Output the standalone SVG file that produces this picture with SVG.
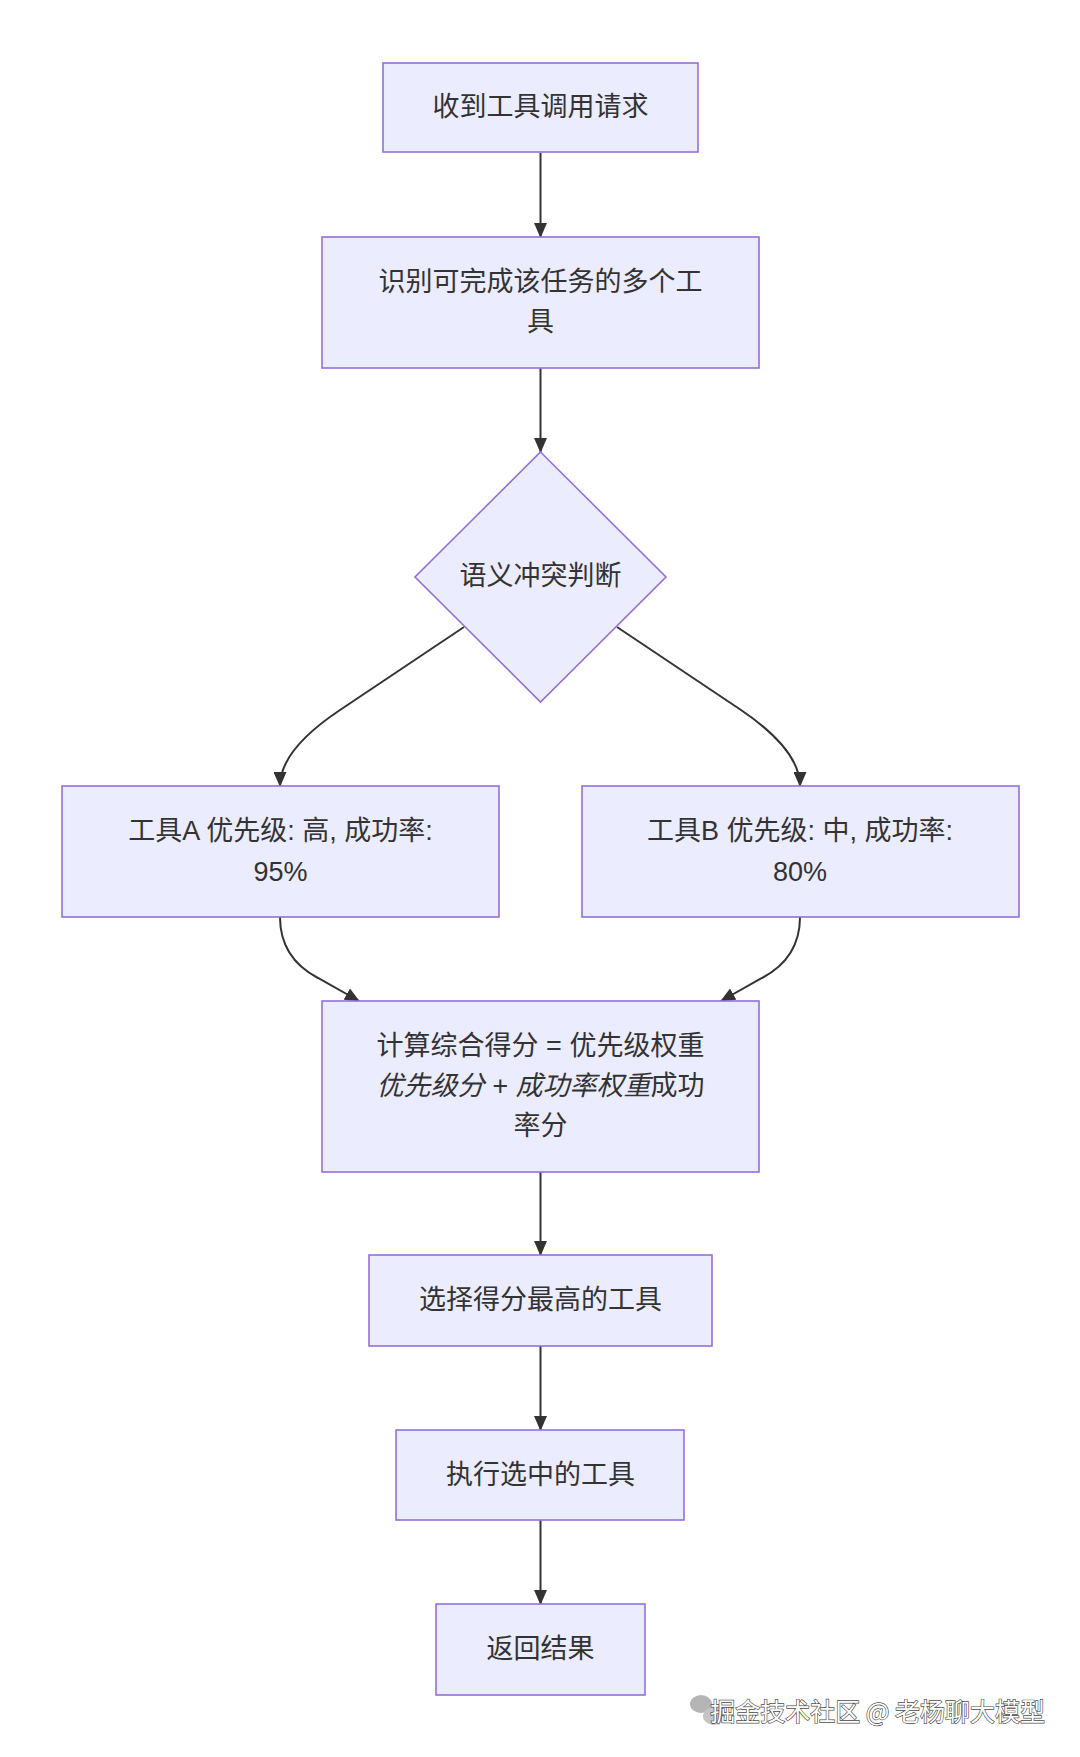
<svg xmlns="http://www.w3.org/2000/svg" width="1080" height="1757" viewBox="0 0 1080 1757">
<style>
.node rect, .node polygon { fill: #ECECFF; stroke: #9370DB; stroke-width: 1.6; }
.lbl { font-family: "Liberation Sans", "Noto Sans CJK SC", sans-serif; font-size: 27px; fill: #333333; text-anchor: middle; dominant-baseline: central; }
.it { font-style: italic; }
.edge { fill: none; stroke: #333333; stroke-width: 2; }
.wm { font-family: "Noto Sans CJK SC", sans-serif; font-size: 25px; fill: #ffffff; stroke: #4a4a4a; stroke-width: 1.3; paint-order: stroke; }
</style>
<defs>
<marker id="arrow" viewBox="0 0 15 13" markerWidth="15" markerHeight="13" refX="14" refY="6.5" orient="auto" markerUnits="userSpaceOnUse">
<path d="M0,0 L15,6.5 L0,13 z" fill="#333333"/>
</marker>
</defs>
<rect width="1080" height="1757" fill="#ffffff"/>

<g id="connectors">
<path class="edge" d="M540.5,153 L540.5,237" marker-end="url(#arrow)"/>
<path class="edge" d="M540.5,368 L540.5,452" marker-end="url(#arrow)"/>
<path class="edge" d="M464,627 L340,710 Q280,750 280,786" marker-end="url(#arrow)"/>
<path class="edge" d="M617,627 L741,710 Q800,750 800,786" marker-end="url(#arrow)"/>
<path class="edge" d="M280,917 Q280,958 318,978 L359,1001" marker-end="url(#arrow)"/>
<path class="edge" d="M800,917 Q800,958 762,978 L721,1001" marker-end="url(#arrow)"/>
<path class="edge" d="M540.5,1172 L540.5,1255" marker-end="url(#arrow)"/>
<path class="edge" d="M540.5,1346 L540.5,1430" marker-end="url(#arrow)"/>
<path class="edge" d="M540.5,1520 L540.5,1604" marker-end="url(#arrow)"/>
</g>

<g id="n1" class="node">
<rect x="383" y="63" width="315" height="89"/>
<text class="lbl" x="540.5" y="107">收到工具调用请求</text>
</g>

<g id="n2" class="node">
<rect x="322" y="237" width="437" height="131"/>
<text class="lbl" x="540.5" y="282">识别可完成该任务的多个工</text>
<text class="lbl" x="540.5" y="322">具</text>
</g>

<g id="n3" class="node">
<polygon points="540.5,452 666,577 540.5,702 415,577"/>
<text class="lbl" x="540.5" y="576">语义冲突判断</text>
</g>

<g id="n4" class="node">
<rect x="62" y="786" width="437" height="131"/>
<text class="lbl" x="280.5" y="831">工具A 优先级: 高, 成功率:</text>
<text class="lbl" x="280.5" y="872">95%</text>
</g>

<g id="n5" class="node">
<rect x="582" y="786" width="437" height="131"/>
<text class="lbl" x="800" y="831">工具B 优先级: 中, 成功率:</text>
<text class="lbl" x="800" y="872">80%</text>
</g>

<g id="n6" class="node">
<rect x="322" y="1001" width="437" height="171"/>
<text class="lbl" x="540.5" y="1046">计算综合得分 = 优先级权重</text>
<text class="lbl" x="540.5" y="1086"><tspan class="it">优先级分 + 成功率权重</tspan>成功</text>
<text class="lbl" x="540.5" y="1126">率分</text>
</g>

<g id="n7" class="node">
<rect x="369" y="1255" width="343" height="91"/>
<text class="lbl" x="540.5" y="1300">选择得分最高的工具</text>
</g>

<g id="n8" class="node">
<rect x="396" y="1430" width="288" height="90"/>
<text class="lbl" x="540.5" y="1475">执行选中的工具</text>
</g>

<g id="n9" class="node">
<rect x="436" y="1604" width="209" height="91"/>
<text class="lbl" x="540.5" y="1649">返回结果</text>
</g>

<g id="watermark">
<ellipse cx="701" cy="1704" rx="11" ry="9" fill="#b5b5b5"/>
<ellipse cx="714" cy="1716" rx="11" ry="9" fill="#c4c4c4"/>
<text class="wm" x="1045" y="1721" text-anchor="end">掘金技术社区 @ 老杨聊大模型</text>
</g>
</svg>
